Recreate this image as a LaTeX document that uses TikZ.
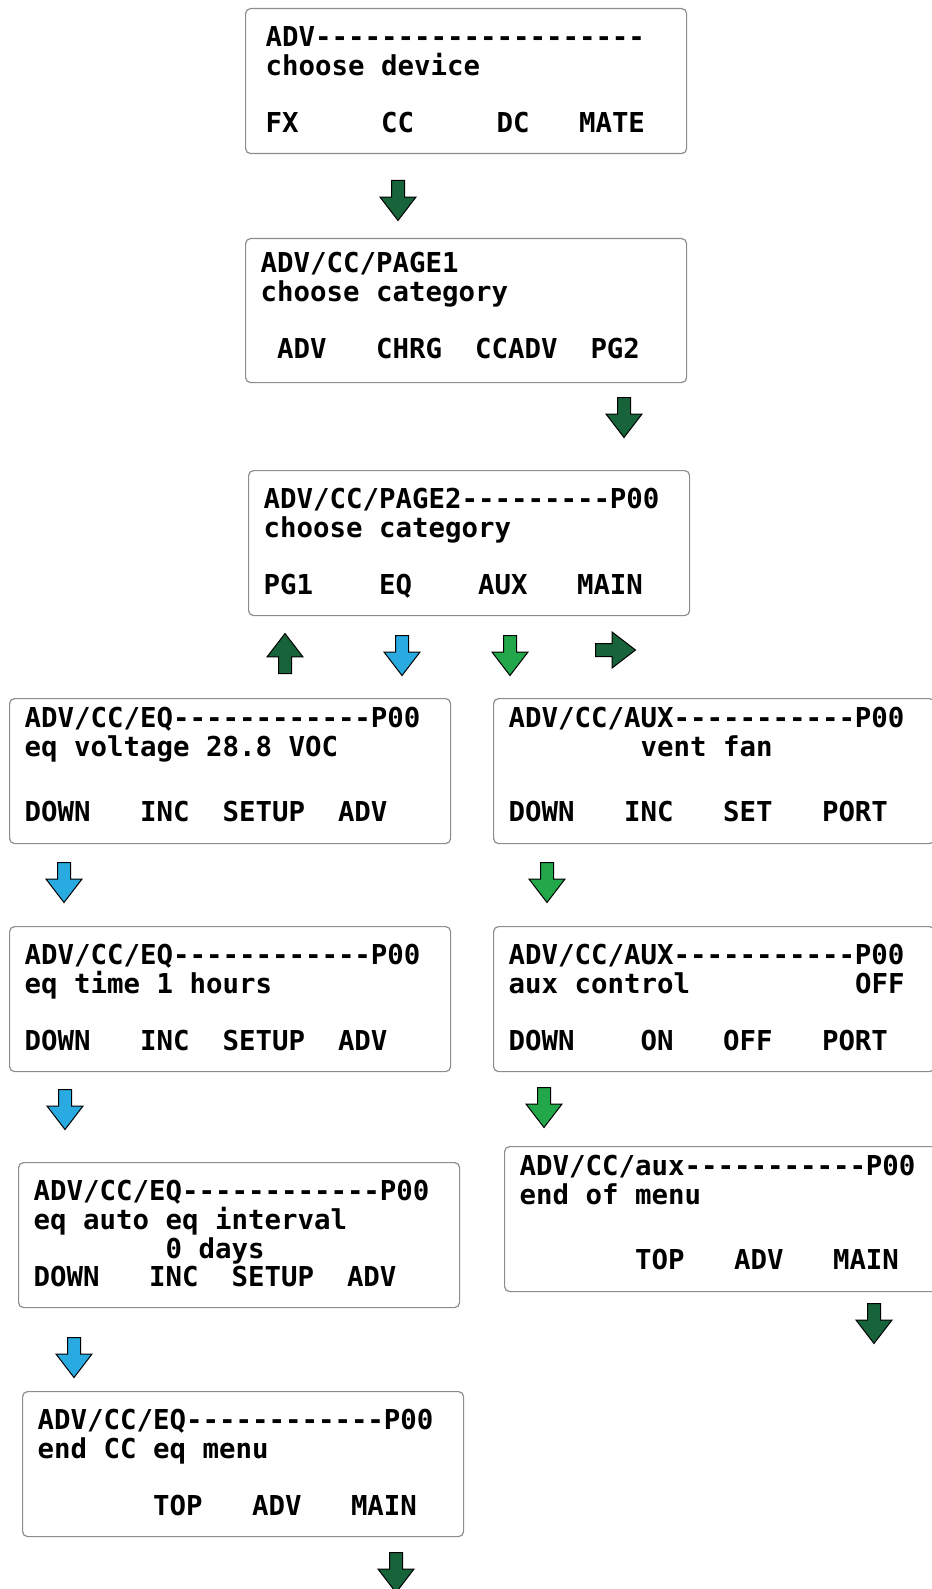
\documentclass[tikz,border=0pt]{standalone}
\usepackage{fontspec}
\setmonofont{DejaVu Sans Mono}
\usetikzlibrary{shapes.arrows}

\definecolor{dkgreen}{HTML}{17633A}
\definecolor{eqblue}{HTML}{29ABE2}
\definecolor{auxgreen}{HTML}{22A84A}

% fixed-pitch blanks, as on the LCD
\newcommand{\lcdfont}{\ttfamily\bfseries\fontsize{27.4pt}{28.7pt}\selectfont
  \fontdimen2\font=0.602em\fontdimen3\font=0pt\fontdimen4\font=0pt
  \spaceskip=0.602em plus 0pt minus 0pt\xspaceskip=0.602em plus 0pt minus 0pt}

\begin{document}
\begin{tikzpicture}[x=1pt, y=-1pt,
    screen/.style={draw=black!45, line width=1.2pt, rounded corners=5pt, anchor=north west,
      text width=411pt, inner xsep=15pt, inner ysep=0pt, align=flush left,
      text height=38pt, text depth=107pt, font=\lcdfont},
    tall/.style={text height=29pt, text depth=116pt},
    arr/.style={single arrow, draw=black, line width=1pt, inner sep=6pt,
      minimum height=40pt, single arrow head extend=11.5pt,
      single arrow tip angle=75, anchor=tail},
    arrdown/.style={arr, shape border rotate=270},
    arrup/.style={arr, shape border rotate=90},
    arrright/.style={arr, shape border rotate=0}
  ]
    \useasboundingbox (0,0) rectangle (931,1589);

    % screens
    \node[screen, inner xsep=20pt, text width=401pt] (device) at (245,8) {ADV--------------------\\choose~device\\\mbox{}\\FX~~~~~CC~~~~~DC~~~MATE};
    \node[screen, text height=34pt, text depth=110pt] (page1) at (245,238) {ADV/CC/PAGE1\\choose~category\\\mbox{}\\\mbox{}~ADV~~~CHRG~~CCADV~~PG2};
    \node[screen] (page2) at (248,470) {ADV/CC/PAGE2---------P00\\choose~category\\\mbox{}\\PG1~~~~EQ~~~~AUX~~~MAIN};

    \node[screen, tall] (eqvolt) at (9,698) {ADV/CC/EQ------------P00\\eq~voltage~28.8~VOC\\[8pt]\mbox{}\\DOWN~~~INC~~SETUP~~ADV};
    \node[screen] (eqtime) at (9,926) {ADV/CC/EQ------------P00\\eq~time~1~hours\\\mbox{}\\DOWN~~~INC~~SETUP~~ADV};
    \node[screen] (eqint) at (18,1162) {ADV/CC/EQ------------P00\\eq~auto~eq~interval\\\mbox{}~~~~~~~~0~days\\DOWN~~~INC~~SETUP~~ADV};
    \node[screen] (eqend) at (22,1391) {ADV/CC/EQ------------P00\\end~CC~eq~menu\\\mbox{}\\\mbox{}~~~~~~~TOP~~~ADV~~~MAIN};

    \node[screen, tall] (auxfan) at (493,698) {ADV/CC/AUX-----------P00\\\mbox{}~~~~~~~~vent~fan\\[8pt]\mbox{}\\DOWN~~~INC~~~SET~~~PORT};
    \node[screen] (auxctl) at (493,926) {ADV/CC/AUX-----------P00\\aux~control~~~~~~~~~~OFF\\\mbox{}\\DOWN~~~~ON~~~OFF~~~PORT};
    \node[screen, tall] (auxend) at (504,1146) {ADV/CC/aux-----------P00\\end~of~menu\\[8pt]\mbox{}\\\mbox{}~~~~~~~TOP~~~ADV~~~MAIN};

    % key arrows
    \node[arrdown, fill=dkgreen] (ccarr) at (398,180) {};
    \node[arrdown, fill=dkgreen] (pg2arr) at (624,397) {};
    \node[arrup, fill=dkgreen] (pg1arr) at (285,674) {};
    \node[arrdown, fill=eqblue] (eqarr) at (402,635) {};
    \node[arrdown, fill=auxgreen] (auxarr) at (510,635) {};
    \node[arrright, fill=dkgreen] (mainarr) at (595,650) {};
    \node[arrdown, fill=eqblue] (eqarr1) at (64,862) {};
    \node[arrdown, fill=eqblue] (eqarr2) at (65,1089) {};
    \node[arrdown, fill=eqblue] (eqarr3) at (74,1337) {};
    \node[arrdown, fill=dkgreen] (eqmain) at (396,1552) {};
    \node[arrdown, fill=auxgreen] (auxarr1) at (547,862) {};
    \node[arrdown, fill=auxgreen] (auxarr2) at (544,1087) {};
    \node[arrdown, fill=dkgreen] (auxmain) at (874,1303) {};
  \end{tikzpicture}
\end{document}
